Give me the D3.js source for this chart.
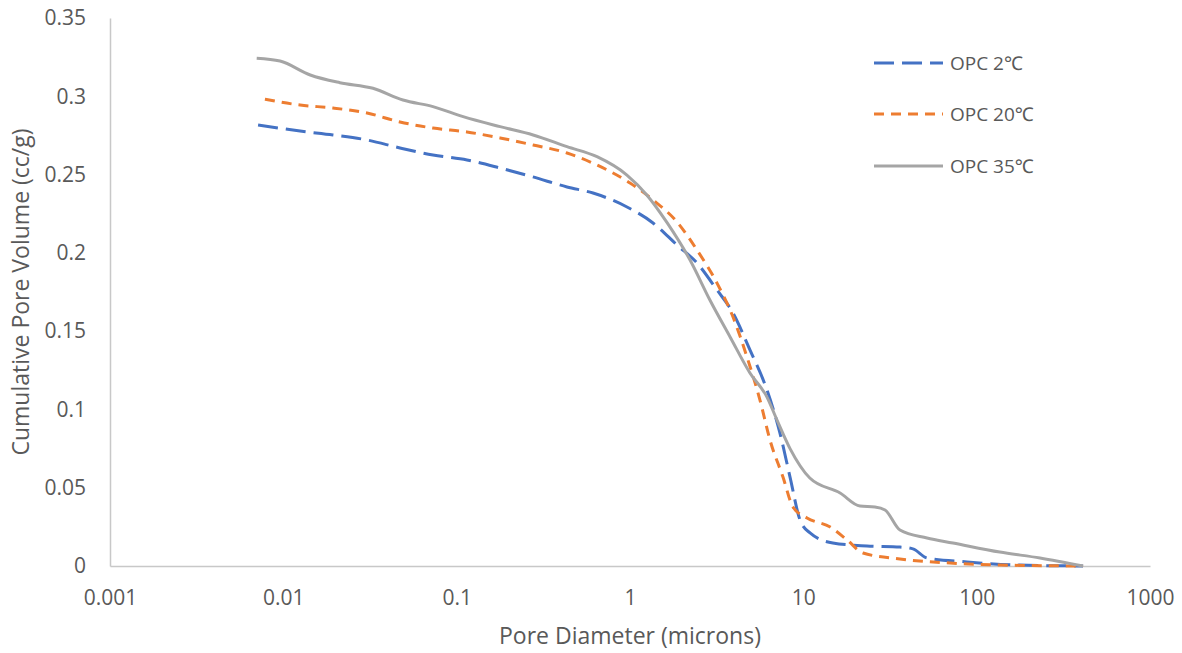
<!DOCTYPE html>
<html>
<head>
<meta charset="utf-8">
<script src="https://cdn.jsdelivr.net/npm/d3@7"></script>
<style>
  html, body { margin: 0; padding: 0; background: #fff; }
  svg { display: block; }
  text { font-family: "Open Sans", "Noto Sans", sans-serif; fill: #595959; }
</style>
</head>
<body>
<svg id="chart" width="1182" height="653"></svg>
<script>
// Pore diameter (microns) and cumulative pore volume (cc/g) for each mix
const opc2Diameter = [0.00715, 0.0125, 0.01935, 0.0304, 0.0471, 0.073, 0.1147, 0.178, 0.2757, 0.433, 0.612, 0.961, 1.358, 1.868, 2.436, 3.177, 3.93, 4.92, 6.17, 7.33, 8.38, 9.57, 10.93, 14.8, 23.3, 36.1, 42.9, 51.7, 88, 171, 411];
const opc2Volume   = [0.2817, 0.2778, 0.2753, 0.2721, 0.2670, 0.2625, 0.2593, 0.2542, 0.2485, 0.2421, 0.2382, 0.2293, 0.2191, 0.2050, 0.1935, 0.1763, 0.1616, 0.1380, 0.1124, 0.0849, 0.0568, 0.0294, 0.0211, 0.0147, 0.0128, 0.0121, 0.0109, 0.0051, 0.0026, 0.0006, 0];

const opc20Diameter = [0.00783, 0.0125, 0.01935, 0.0304, 0.0471, 0.073, 0.1147, 0.178, 0.2757, 0.433, 0.645, 1.0, 1.358, 1.868, 2.436, 3.177, 3.93, 4.73, 5.62, 6.42, 7.63, 8.71, 10.5, 14.3, 17.9, 22.1, 36.1, 70.2, 136, 411];
const opc20Volume   = [0.2981, 0.2944, 0.2925, 0.2893, 0.2836, 0.2797, 0.2772, 0.2734, 0.2689, 0.2638, 0.2561, 0.2446, 0.2338, 0.2197, 0.2018, 0.1807, 0.1590, 0.1335, 0.1060, 0.0805, 0.0568, 0.0377, 0.0307, 0.0249, 0.0166, 0.0083, 0.0045, 0.0019, 0.0006, 0];

const opc35Diameter = [0.00702, 0.00957, 0.0143, 0.0212, 0.0329, 0.049, 0.073, 0.109, 0.178, 0.276, 0.433, 0.645, 0.96, 1.25, 1.64, 2.22, 2.89, 3.78, 4.92, 6.17, 7.05, 8.38, 10.9, 16.3, 21.2, 25.9, 29.6, 36.1, 51.7, 73, 136, 232, 411];
const opc35Volume   = [0.3243, 0.3225, 0.3136, 0.3087, 0.3051, 0.2976, 0.2934, 0.2870, 0.2806, 0.2753, 0.2678, 0.2614, 0.2497, 0.2370, 0.2191, 0.1954, 0.1699, 0.1463, 0.1233, 0.1079, 0.0932, 0.0750, 0.0562, 0.0466, 0.0383, 0.0377, 0.0358, 0.0230, 0.0179, 0.0147, 0.0089, 0.0051, 0];

const seriesNames = ["OPC 2\u2103", "OPC 20\u2103", "OPC 35\u2103"];
const xTickValues = [0.001, 0.01, 0.1, 1, 10, 100, 1000];
const xTickLabels = ["0.001", "0.01", "0.1", "1", "10", "100", "1000"];
const yTickValues = [0, 0.05, 0.1, 0.15, 0.2, 0.25, 0.3, 0.35];
const yTickLabels = ["0", "0.05", "0.1", "0.15", "0.2", "0.25", "0.3", "0.35"];

const series = [
  { name: seriesNames[0], d: opc2Diameter,  v: opc2Volume,  color: "#4472C4", dash: "20,8" },
  { name: seriesNames[1], d: opc20Diameter, v: opc20Volume, color: "#ED7D31", dash: "10,7" },
  { name: seriesNames[2], d: opc35Diameter, v: opc35Volume, color: "#A5A5A5", dash: null }
];

const svg = d3.select("#chart");
const plot = { left: 110, right: 1150, top: 18, bottom: 566 };

const x = d3.scaleLog().domain([0.001, 1000]).range([plot.left, plot.right]);
const y = d3.scaleLinear().domain([0, 0.35]).range([plot.bottom, plot.top]);

// Axes: plain light-grey lines, no tick marks
const xAxis = d3.axisBottom(x).tickValues(xTickValues)
  .tickFormat((d, i) => xTickLabels[i]).tickSize(0).tickPadding(24);
const yAxis = d3.axisLeft(y).tickValues(yTickValues)
  .tickFormat((d, i) => yTickLabels[i]).tickSize(0).tickPadding(24);

const gx = svg.append("g").attr("transform", `translate(0,${plot.bottom})`).call(xAxis);
const gy = svg.append("g").attr("transform", `translate(${plot.left},0)`).call(yAxis);
[gx, gy].forEach(g => {
  g.select(".domain").attr("stroke", "#C8C8C8").attr("stroke-width", 1.5);
  g.selectAll("text").attr("font-size", 21).attr("fill", "#595959")
    .attr("font-family", "'Open Sans', 'Noto Sans', sans-serif");
});

// Series lines
const line = d3.line()
  .x(p => x(p[0]))
  .y(p => y(p[1]))
  .curve(d3.curveMonotoneX);

series.forEach(s => {
  const pts = s.d.map((d, i) => [d, s.v[i]]);
  svg.append("path")
    .datum(pts)
    .attr("fill", "none")
    .attr("stroke", s.color)
    .attr("stroke-width", 3)
    .attr("stroke-dasharray", s.dash)
    .attr("d", line);
});

// Axis titles
svg.append("text")
  .attr("x", (plot.left + plot.right) / 2)
  .attr("y", 644)
  .attr("text-anchor", "middle")
  .attr("font-size", 23)
  .text("Pore Diameter (microns)");

svg.append("text")
  .attr("transform", `translate(29,${(plot.top + plot.bottom) / 2}) rotate(-90)`)
  .attr("text-anchor", "middle")
  .attr("font-size", 23)
  .text("Cumulative Pore Volume (cc/g)");

// Legend
const legendY = [63, 114, 166];
series.forEach((s, i) => {
  svg.append("line")
    .attr("x1", 874).attr("x2", 943)
    .attr("y1", legendY[i]).attr("y2", legendY[i])
    .attr("stroke", s.color)
    .attr("stroke-width", 3)
    .attr("stroke-dasharray", s.dash);
  svg.append("text")
    .attr("x", 950)
    .attr("y", legendY[i])
    .attr("dy", "0.35em")
    .attr("font-size", 19)
    .text(s.name);
});
</script>
</body>
</html>
